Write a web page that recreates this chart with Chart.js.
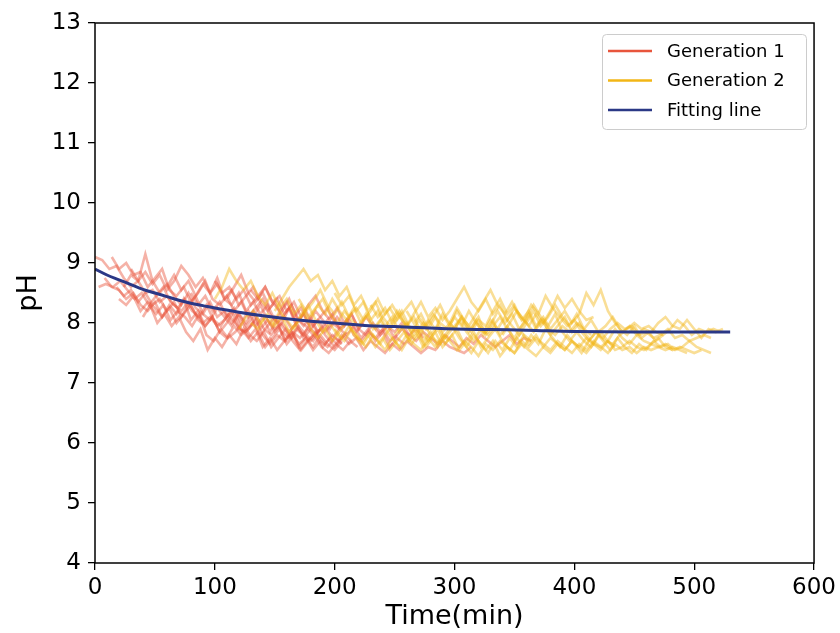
<!DOCTYPE html>
<html lang="en">
<head>
    <meta charset="UTF-8">
    <title>pH vs Time</title>
    <script src="https://cdn.jsdelivr.net/npm/chart.js@4.4.1/dist/chart.umd.min.js"></script>
    <style>
        html, body { margin: 0; padding: 0; background: #ffffff; }
        #wrap { width: 840px; height: 633px; }
    </style>
</head>
<body>
    <div id="wrap"><canvas id="phChart" width="840" height="633"></canvas></div>

    <script>
        // axis ticks
        const xTicks = [0, 100, 200, 300, 400, 500, 600];
        const yTicks = [4, 5, 6, 7, 8, 9, 10, 11, 12, 13];

        // every run is sampled every 6 min
        const sampleStep = 6;

        // Generation 1 runs: start time (min) and pH readings
        const gen1Starts = [0, 3, 14, 20, 24, 30, 8, 45, 60, 80, 100, 110, 40, 18, 130];
        const gen1Values = [
            [9.1, 9.05, 8.9, 8.95, 8.75, 8.6, 8.7, 8.5, 8.55, 8.35, 8.45, 8.3, 8.2, 8.35, 8.15, 8.0, 8.1, 7.95, 8.05, 8.2, 7.9, 7.85, 8.0, 7.8, 7.95, 8.1, 7.85, 7.75, 7.9, 7.8, 7.7, 7.85],
            [8.6, 8.65, 8.6, 8.7, 8.55, 8.4, 8.5, 8.3, 8.45, 8.6, 8.35, 8.25, 8.4, 8.2, 8.1, 8.3, 8.05, 7.95, 8.15, 8.0, 7.85, 7.95, 8.1, 7.9, 7.8, 7.95, 7.7, 7.85, 7.75, 7.9],
            [9.1, 8.9, 9.0, 8.8, 8.85, 8.6, 8.75, 8.9, 8.55, 8.45, 8.6, 8.35, 8.5, 8.7, 8.4, 8.3, 8.45, 8.2, 8.35, 8.1, 8.25, 8.4, 8.15, 8.0, 8.1, 7.9, 8.05, 7.95, 7.8, 7.9],
            [8.4, 8.3, 8.45, 8.2, 8.35, 8.25, 8.1, 8.3, 8.15, 8.4, 8.05, 8.2, 7.95, 8.1, 7.85, 7.75, 7.95, 7.8, 7.9, 8.05, 7.8, 7.65, 7.8, 7.7, 7.85, 7.6, 7.75, 7.55, 7.7, 7.6, 7.75, 7.65],
            [8.6, 8.8, 8.7, 9.15, 8.7, 8.5, 8.65, 8.45, 8.3, 8.5, 8.25, 8.15, 8.35, 8.1, 8.2, 8.0, 8.15, 7.95, 8.1, 8.3, 8.05, 7.9, 8.0, 7.85, 8.0, 7.75, 7.9, 7.8, 7.65, 7.8, 7.7, 7.85],
            [8.9, 8.7, 8.85, 8.65, 8.8, 8.55, 8.7, 8.95, 8.8, 8.6, 8.75, 8.5, 8.65, 8.4, 8.55, 8.3, 8.45, 8.6, 8.35, 8.2, 8.35, 8.1, 8.25, 8.0, 8.15, 7.9, 8.05, 7.85, 8.0, 7.9],
            [8.75, 8.6, 8.55, 8.4, 8.5, 8.3, 8.2, 8.35, 8.1, 8.25, 8.0, 8.15, 8.3, 8.05, 7.95, 8.1, 7.85, 8.0, 8.2, 7.9, 7.75, 7.9, 7.6, 7.75, 7.55, 7.7, 7.85, 7.65, 7.75, 7.6, 7.8, 7.65, 7.55, 7.7],
            [8.3, 8.15, 8.3, 8.05, 8.2, 8.1, 7.95, 8.15, 7.8, 7.7, 7.9, 7.75, 7.85, 8.0, 7.8, 7.7, 7.85, 7.6, 7.75, 7.9, 7.7, 7.55, 7.7, 7.8, 7.6, 7.5, 7.65, 7.55, 7.7, 7.6],
            [8.6, 8.8, 8.55, 8.7, 8.45, 8.65, 8.5, 8.75, 8.4, 8.3, 8.5, 8.2, 8.35, 8.15, 8.3, 8.05, 8.2, 8.4, 8.1, 7.95, 8.1, 7.85, 8.0, 8.15, 7.9, 7.8, 7.95, 7.75, 7.9, 7.7, 7.85, 7.6, 7.75, 7.65],
            [8.5, 8.3, 8.45, 8.2, 8.35, 8.1, 8.25, 8.0, 8.2, 7.95, 8.1, 7.85, 8.05, 7.9, 7.75, 7.95, 7.8, 7.7, 7.9, 7.75, 7.6, 7.8, 7.65, 7.75, 7.55, 7.7, 7.6, 7.5, 7.65, 7.55, 7.7, 7.6, 7.5, 7.6, 7.55, 7.7, 7.6, 7.55, 7.5, 7.6],
            [8.7, 8.5, 8.6, 8.4, 8.55, 8.3, 8.45, 8.6, 8.35, 8.2, 8.35, 8.1, 8.25, 8.0, 8.2, 8.05, 7.9, 8.1, 7.95, 8.15, 7.9, 7.8, 8.0, 7.85, 7.95, 7.75, 7.9, 7.8, 7.7, 7.85, 7.75, 7.65, 7.8, 7.7, 7.6, 7.75, 7.65, 7.8, 7.7, 7.6, 7.7, 7.8, 7.65, 7.75, 7.7],
            [8.4, 8.6, 8.8, 8.5, 8.35, 8.5, 8.25, 8.4, 8.15, 8.3, 8.05, 8.2, 7.95, 8.1, 8.25, 8.0, 7.9, 8.05, 7.85, 8.0],
            [8.1, 8.3, 8.0, 8.15, 7.95, 8.1, 7.85, 7.7, 7.9, 7.55, 7.75, 7.6, 7.8, 7.65, 7.9, 7.7, 7.85, 7.6, 7.75, 7.9, 7.65, 7.8, 7.55, 7.7, 7.85, 7.6, 7.75, 7.65, 7.8, 7.7],
            [8.6, 8.45, 8.55, 8.35, 8.5, 8.3, 8.4, 8.2, 8.35, 8.1, 8.3, 8.45, 8.15, 8.05, 8.25, 8.1, 7.95, 8.15, 8.0, 8.2, 7.9, 8.05, 7.85, 8.0, 8.25, 7.95, 7.8, 8.0, 7.85, 7.95, 7.75, 7.9, 8.05, 7.8, 7.7, 7.85, 7.75, 7.9, 7.7, 7.8],
            [8.55, 8.4, 8.6, 8.35, 8.45, 8.2, 8.35, 8.1, 8.3, 8.45, 8.2, 8.05, 8.25, 8.0, 8.15, 7.9, 8.1, 7.95, 7.8, 7.95, 7.85, 8.0, 7.8, 7.9, 7.75]
        ];

        // Generation 2 runs
        const gen2Starts = [100, 150, 180, 200, 230, 250, 130, 170, 260, 300, 200, 320, 120, 340];
        const gen2Values = [
            [8.4, 8.6, 8.9, 8.7, 8.55, 8.7, 8.45, 8.3, 8.5, 8.25, 8.4, 8.15, 8.3, 8.1, 8.25, 8.4, 8.15, 8.0, 8.2, 8.05, 7.95, 8.15, 7.9, 8.05, 7.85, 8.0, 8.2, 7.95, 7.85, 8.0, 7.8, 7.95, 7.75, 7.9, 8.05, 7.85, 7.7, 7.9, 7.8, 7.95],
            [8.2, 8.4, 8.6, 8.75, 8.9, 8.7, 8.8, 8.55, 8.7, 8.45, 8.6, 8.3, 8.45, 8.2, 8.35, 8.1, 8.25, 8.05, 8.2, 8.35, 8.1, 7.95, 8.15, 8.0, 7.9, 8.1, 7.95, 8.2, 8.0, 7.85, 8.05, 7.9, 8.1, 7.95, 7.8, 8.0, 7.85, 8.05, 7.9, 7.8, 7.95, 7.85, 8.0, 7.9, 7.8],
            [8.1, 8.3, 8.15, 8.4, 8.2, 8.05, 8.25, 8.0, 8.15, 7.9, 8.1, 7.95, 8.2, 8.0, 7.85, 8.05, 7.9, 8.1, 8.3, 8.05, 7.9, 8.1, 7.95, 8.15, 8.35, 8.55, 8.3, 8.15, 8.35, 8.1, 8.0, 8.2, 7.95, 8.1, 8.3, 8.1, 7.95, 8.15, 7.9, 8.05, 7.85, 7.95, 8.1, 7.9, 7.8, 7.95, 7.75, 7.85, 7.7, 7.8],
            [7.9, 7.75, 7.95, 7.8, 7.65, 7.85, 7.7, 7.55, 7.75, 7.6, 7.8, 7.65, 7.55, 7.75, 7.6, 7.8, 7.7, 7.55, 7.7, 7.6, 7.45, 7.65, 7.55, 7.7, 7.6, 7.5, 7.7, 7.6, 7.75, 7.65, 7.55, 7.7, 7.6, 7.5, 7.65, 7.55, 7.7, 7.6, 7.5, 7.65, 7.55, 7.6, 7.5, 7.6, 7.55, 7.6, 7.65, 7.55, 7.6, 7.55, 7.5, 7.55],
            [8.3, 8.1, 8.25, 8.0, 8.2, 7.95, 8.1, 7.85, 8.05, 7.9, 8.15, 7.95, 8.2, 8.0, 7.85, 8.05, 7.95, 8.2, 8.4, 8.15, 8.3, 8.05, 8.2, 7.95, 8.1, 7.9, 8.05, 8.2, 8.0, 8.15, 8.5, 8.3, 8.55, 8.2, 8.0, 7.85, 7.95, 7.8, 7.9, 7.85, 8.0, 8.1, 7.95, 7.9, 8.05, 7.9, 7.75, 7.9, 7.85, 7.9],
            [7.8, 7.95, 7.7, 7.85, 7.6, 7.75, 7.9, 7.65, 7.8, 7.55, 7.7, 7.85, 7.6, 7.75, 7.9, 7.7, 7.55, 7.75, 7.6, 7.8, 7.65, 7.9, 7.75, 7.6, 7.8, 7.65, 7.5, 7.7, 7.85, 7.7, 7.55, 7.75, 7.6, 7.5, 7.65, 7.55, 7.7, 7.6, 7.65, 7.55, 7.6, 7.7, 7.6, 7.55, 7.5],
            [8.0, 7.9, 8.1, 7.95, 8.2, 8.05, 7.9, 8.1, 8.3, 8.05, 7.85, 8.0, 7.8, 7.7, 7.9, 7.75, 7.6, 7.8, 7.65, 7.85, 7.7, 7.55, 7.75, 7.95, 7.7, 7.85, 7.6, 7.8, 7.95, 7.75, 7.6, 7.8, 7.65, 7.5, 7.7, 7.55, 7.75, 7.6, 7.8, 7.7],
            [8.4, 8.2, 8.35, 8.55, 8.3, 8.15, 8.35, 8.1, 8.25, 8.05, 8.2, 8.4, 8.15, 8.3, 8.1, 7.95, 8.15, 8.35, 8.1, 8.25, 8.05, 8.2, 8.4, 8.6, 8.35, 8.2, 8.4, 8.15, 8.3, 8.05, 8.25, 8.1, 7.95, 8.15, 8.0, 8.2, 8.45, 8.25, 8.4, 8.2, 8.05, 8.1],
            [8.2, 8.0, 8.15, 7.9, 8.1, 7.85, 8.0, 8.25, 8.05, 7.9, 8.1, 7.8, 7.95, 8.1, 7.9, 7.75, 7.95, 8.15, 7.9, 8.05, 7.8, 7.95, 8.1, 7.85, 8.0, 7.8, 7.65, 7.85, 7.7, 7.9, 7.75, 7.65, 7.8, 7.7, 7.65, 7.75, 7.6, 7.55],
            [7.9, 8.1, 7.85, 8.05, 7.8, 7.95, 8.2, 8.0, 8.15, 7.9, 8.05, 8.3, 8.1, 7.95, 8.15, 7.85, 7.7, 7.85, 7.7, 7.6, 7.8, 7.7, 7.65, 7.8, 7.9, 8.0, 7.9, 7.95, 7.85, 7.8, 7.9, 8.05, 7.95, 7.8, 7.9, 7.85, 7.9, 7.85],
            [8.5, 8.3, 8.45, 8.2, 8.35, 8.05, 8.2, 7.95, 8.1, 7.85, 8.0, 7.75, 7.9, 7.7, 7.85, 7.6, 7.75, 7.9, 7.65, 7.5, 7.7, 7.55, 7.7, 7.45, 7.6, 7.5, 7.65, 7.55, 7.45, 7.6, 7.5, 7.65, 7.55, 7.7, 7.6, 7.5, 7.65, 7.55, 7.7, 7.6],
            [8.0, 7.85, 8.05, 7.8, 7.95, 7.7, 7.85, 7.65, 7.8, 7.6, 7.75, 7.65, 7.55, 7.7, 7.6, 7.75, 7.65, 7.6, 7.7, 7.55, 7.6, 7.7, 7.6, 7.55, 7.65, 7.6, 7.55, 7.6, 7.55, 7.5],
            [7.9, 8.1, 8.2, 8.0, 8.15, 7.95, 8.1, 7.85, 8.0, 8.2, 7.9, 7.75, 7.9, 7.7, 7.85, 8.05, 7.8, 7.65, 7.8, 7.6, 7.75, 7.55, 7.7, 7.85, 7.65, 7.8, 7.6, 7.75, 7.65, 7.8],
            [7.8, 8.0, 8.2, 8.05, 8.3, 8.15, 8.45, 8.25, 8.1, 7.95, 8.05, 7.85, 7.7, 7.85, 7.75, 7.9, 8.0, 7.9, 7.95, 7.8, 7.85, 7.75, 7.8, 7.9, 7.75, 7.8, 7.7, 7.75, 7.8, 7.75]
        ];

        // fitted curve
        const fitTimes = [0, 10, 20, 30, 40, 50, 60, 70, 80, 90, 100, 120, 140, 160, 180, 200, 225, 250, 275, 300, 330, 360, 400, 450, 500, 530];
        const fitValues = [8.90, 8.80, 8.72, 8.64, 8.56, 8.50, 8.44, 8.38, 8.33, 8.29, 8.25, 8.18, 8.12, 8.07, 8.03, 8.00, 7.96, 7.94, 7.92, 7.90, 7.89, 7.88, 7.86, 7.85, 7.85, 7.85];

        const legendNames = ['Generation 1', 'Generation 2', 'Fitting line'];
        const gen1Color = 'rgba(232, 85, 60, 0.45)';
        const gen2Color = 'rgba(242, 182, 22, 0.45)';
        const fitColor = '#2b3886';
        const legendColors = ['#e8553c', '#f2b616', fitColor];

        const fontFamily = '"DejaVu Sans", sans-serif';

        function runData(start, values) {
            return values.map((v, i) => ({ x: start + i * sampleStep, y: v }));
        }

        const datasets = [];
        // fitting line first so it draws on top
        datasets.push({
            label: 'Fitting line',
            data: fitTimes.map((t, i) => ({ x: t, y: fitValues[i] })),
            borderColor: fitColor,
            borderWidth: 3,
            pointRadius: 0,
            tension: 0.4,
            order: 0
        });
        gen2Values.forEach((vals, i) => {
            datasets.push({
                label: 'Generation 2',
                data: runData(gen2Starts[i], vals),
                borderColor: gen2Color,
                borderWidth: 2.6,
                pointRadius: 0,
                order: 1
            });
        });
        gen1Values.forEach((vals, i) => {
            datasets.push({
                label: 'Generation 1',
                data: runData(gen1Starts[i], vals),
                borderColor: gen1Color,
                borderWidth: 2.6,
                pointRadius: 0,
                order: 2
            });
        });

        // frame round the plot and the legend box (matplotlib style)
        const framePlugin = {
            id: 'frame',
            afterDraw(chart) {
                const ctx = chart.ctx;
                const a = chart.chartArea;
                ctx.save();
                ctx.strokeStyle = '#000';
                ctx.lineWidth = 1.5;
                ctx.strokeRect(a.left, a.top, a.right - a.left, a.bottom - a.top);

                // legend
                const bx = 602, by = 34, bw = 204, bh = 95;
                ctx.fillStyle = 'rgba(255,255,255,0.8)';
                ctx.strokeStyle = '#cccccc';
                ctx.lineWidth = 1;
                ctx.beginPath();
                ctx.roundRect(bx + 0.5, by + 0.5, bw, bh, 4);
                ctx.fill();
                ctx.stroke();
                ctx.font = '18px ' + fontFamily;
                ctx.textBaseline = 'middle';
                legendNames.forEach((name, i) => {
                    const y = 51 + i * 29.5;
                    ctx.strokeStyle = legendColors[i];
                    ctx.lineWidth = 2.6;
                    ctx.beginPath();
                    ctx.moveTo(608, y);
                    ctx.lineTo(652, y);
                    ctx.stroke();
                    ctx.fillStyle = '#000';
                    ctx.fillText(name, 667, y + 1);
                });
                ctx.restore();
            }
        };

        new Chart(document.getElementById('phChart'), {
            type: 'line',
            data: { datasets: datasets },
            options: {
                responsive: false,
                animation: false,
                layout: { padding: { top: 23, right: 24, left: 0, bottom: 0 } },
                plugins: {
                    legend: { display: false },
                    tooltip: { enabled: false }
                },
                scales: {
                    x: {
                        type: 'linear',
                        min: 0,
                        max: 600,
                        afterBuildTicks: (scale) => { scale.ticks = xTicks.map(v => ({ value: v })); },
                        afterFit: (scale) => { scale.height = 70; },
                        border: { display: false },
                        grid: { drawOnChartArea: false, drawTicks: true, tickLength: 7, tickColor: '#000', lineWidth: 1.3 },
                        ticks: { color: '#000', font: { family: fontFamily, size: 23 }, padding: 4, maxRotation: 0 },
                        title: { display: true, text: 'Time(min)', color: '#000', font: { family: fontFamily, size: 27 }, padding: { top: 0, bottom: 0 } }
                    },
                    y: {
                        min: 4,
                        max: 13,
                        afterBuildTicks: (scale) => { scale.ticks = yTicks.map(v => ({ value: v })); },
                        afterFit: (scale) => { scale.width = 95; },
                        border: { display: false },
                        grid: { drawOnChartArea: false, drawTicks: true, tickLength: 7, tickColor: '#000', lineWidth: 1.3 },
                        ticks: { color: '#000', font: { family: fontFamily, size: 23 }, padding: 7 },
                        title: { display: true, text: 'pH', color: '#000', font: { family: fontFamily, size: 27 }, padding: { top: 13, bottom: 0 } }
                    }
                }
            },
            plugins: [framePlugin]
        });
    </script>
</body>
</html>
